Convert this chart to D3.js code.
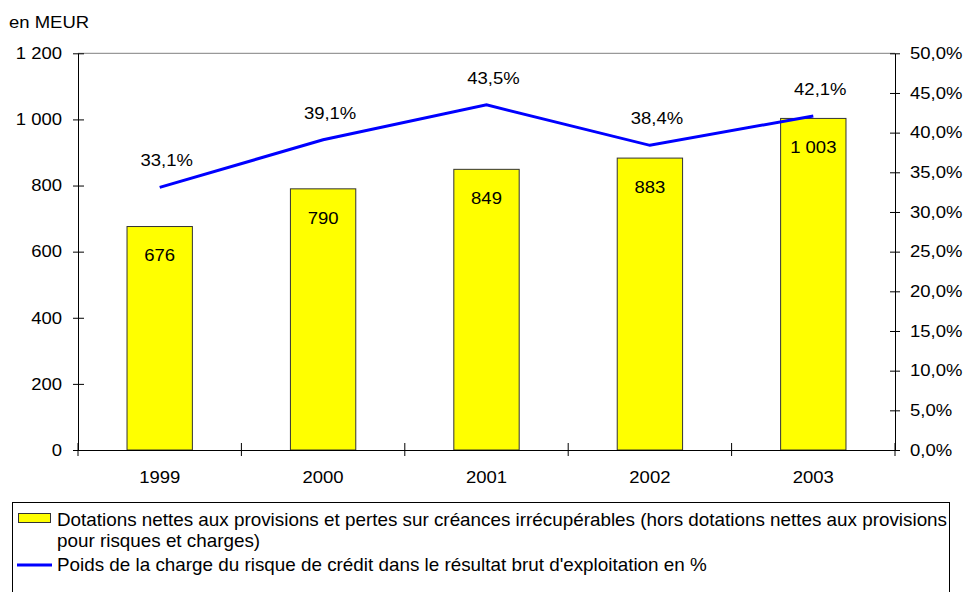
<!DOCTYPE html>
<html><head><meta charset="utf-8">
<script src="https://cdn.jsdelivr.net/npm/d3@7"></script>
<style>body{margin:0;background:#fff}svg{display:block}text{font-family:"Liberation Sans",Arial,sans-serif;font-size:16.5px;fill:#000}text.lg{font-size:18.5px}</style>
</head><body><svg id="c" width="965" height="592"></svg>
<script>
const years = ["1999","2000","2001","2002","2003"];
const dotations = [676, 790, 849, 883, 1003];
const poids = [33.1, 39.1, 43.5, 38.4, 42.1];
const leftTicks = [0, 200, 400, 600, 800, 1000, 1200];
const rightTicks = [0, 5, 10, 15, 20, 25, 30, 35, 40, 45, 50];
const legendBar = ["Dotations nettes aux provisions et pertes sur créances irrécupérables (hors dotations nettes aux provisions", "pour risques et charges)"];
const legendLine = "Poids de la charge du risque de crédit dans le résultat brut d'exploitation en %";

const fmtInt = v => d3.format(",")(v).replace(/,/g, " ");
const fmtPct = v => v.toFixed(1).replace(".", ",") + "%";

const svg = d3.select("#c");
const L = 78, R = 895, T = 53.3, B = 450;
function stretch(sel, f){ sel.each(function(){ const w=this.getComputedTextLength(); this.setAttribute("textLength", w*f); this.setAttribute("lengthAdjust","spacingAndGlyphs"); }); }

const x = d3.scaleBand().domain(years).range([L, R]).paddingInner(0.6).paddingOuter(0.3);
const xb = d3.scaleBand().domain(years).range([L, R]);
const yL = d3.scaleLinear().domain([0, 1200]).range([B, T]);
const yR = d3.scaleLinear().domain([0, 50]).range([B, T]);

// top border
svg.append("line").attr("x1", L).attr("x2", R).attr("y1", T).attr("y2", T).attr("stroke", "#808080").attr("stroke-width", 1);

// bars
svg.selectAll("rect.bar").data(dotations).join("rect").attr("class","bar")
  .attr("x", (d,i) => x(years[i])).attr("width", x.bandwidth())
  .attr("y", d => yL(d)).attr("height", d => B - yL(d))
  .attr("fill", "#ffff00").attr("stroke", "#333").attr("stroke-width", 1);

// axes
const gL = svg.append("g").attr("transform", `translate(${L},0)`)
  .call(d3.axisLeft(yL).tickValues(leftTicks).tickFormat(fmtInt).tickSize(0).tickPadding(16));
gL.select(".domain").attr("stroke", "#000");
gL.selectAll(".tick").append("line").attr("x1", -5).attr("x2", 6).attr("stroke", "#000");

const gR = svg.append("g").attr("transform", `translate(${R},0)`)
  .call(d3.axisRight(yR).tickValues(rightTicks).tickFormat(fmtPct).tickSize(0).tickPadding(15));
gR.select(".domain").attr("stroke", "#000");
gR.selectAll(".tick").append("line").attr("x1", -5).attr("x2", 5).attr("stroke", "#000");

const gB = svg.append("g").attr("transform", `translate(0,${B})`)
  .call(d3.axisBottom(xb).tickSize(0).tickPadding(21));
gB.select(".domain").attr("stroke", "#000");
svg.selectAll("g").attr("font-family", null).attr("font-size", null);
// category separator ticks
svg.selectAll("line.ct").data(d3.range(years.length + 1)).join("line").attr("class","ct")
  .attr("x1", i => L + i * xb.step()).attr("x2", i => L + i * xb.step())
  .attr("y1", B - 7).attr("y2", B + 6).attr("stroke", "#000");

// line
const line = d3.line().x((d,i) => xb(years[i]) + xb.bandwidth()/2).y(d => yR(d));
svg.append("path").datum(poids).attr("d", line).attr("fill","none").attr("stroke","#0000ff").attr("stroke-width",3);

// labels
svg.selectAll("text.pl").data(poids).join("text").attr("class","pl")
  .attr("x", (d,i) => xb(years[i]) + xb.bandwidth()/2 + 7).attr("y", d => yR(d) - 27)
  .attr("dy","0.35em").attr("text-anchor","middle").text(fmtPct);
svg.selectAll("text.bl").data(dotations).join("text").attr("class","bl")
  .attr("x", (d,i) => xb(years[i]) + xb.bandwidth()/2).attr("y", d => yL(d) + 29)
  .attr("dy","0.35em").attr("text-anchor","middle").text(fmtInt);

svg.append("text").attr("x", 9).attr("y", 22).attr("dy","0.35em").text("en MEUR");

svg.selectAll("text").call(stretch, 1.12);

// legend
svg.append("rect").attr("x", 12.5).attr("y", 502.5).attr("width", 937).attr("height", 110).attr("fill","none").attr("stroke","#000");
svg.append("rect").attr("x", 18.5).attr("y", 513.5).attr("width", 32).attr("height", 9).attr("fill","#ffff00").attr("stroke","#333");
svg.append("line").attr("x1", 17).attr("x2", 52).attr("y1", 565).attr("y2", 565).attr("stroke","#0000ff").attr("stroke-width",3);
const lg = svg.append("g");
lg.selectAll("text.lg").data(legendBar).join("text").attr("class","lg")
  .attr("x", 57).attr("y", (d,i) => 520 + i*21).attr("dy","0.35em").text(d => d);
lg.append("text").attr("class","lg").attr("x", 57).attr("y", 565).attr("dy","0.35em").text(legendLine);
const first = lg.select("text.lg").node();
const lf = 890 / first.getComputedTextLength();
lg.selectAll("text").call(stretch, lf);
</script></body></html>
